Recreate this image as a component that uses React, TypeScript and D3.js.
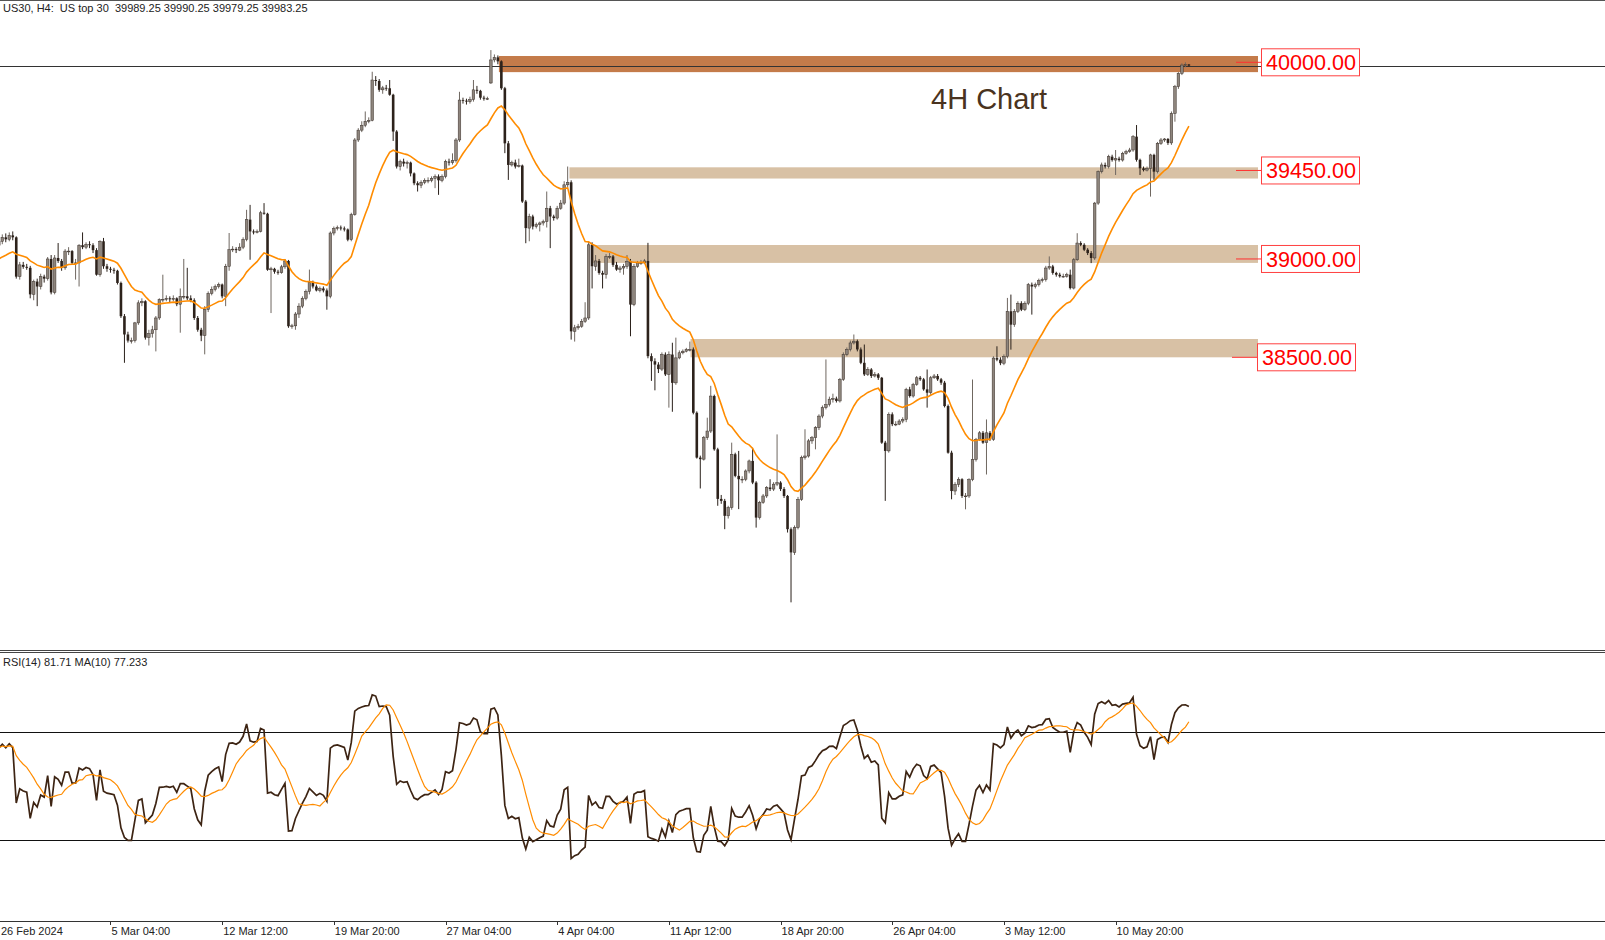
import React, { useEffect } from "react";
import * as d3 from "d3";

// ---- OHLC data, 4H bars, grouped by blocks of 32 bars ----
const wk0 = [[39070,39130,39050,39090],[39090,39125,39075,39110],[39110,39130,39085,39100],[39100,39135,39090,39120],[39120,39140,39095,39110],[39110,39115,38900,38910],[38910,38985,38895,38970],[38970,38985,38950,38960],[38960,38975,38945,38955],[38955,38965,38800,38820],[38820,38895,38790,38885],[38885,38900,38760,38860],[38860,38925,38845,38910],[38910,38920,38880,38900],[38900,39010,38890,39000],[39000,39020,38820,38830],[38830,39020,38820,39005],[39005,39081,38980,38990],[38990,39000,38940,38955],[38955,39050,38945,39040],[39040,39060,39020,39040],[39040,39045,38970,38980],[38980,39000,38895,38980],[38980,39075,38860,39070],[39070,39135,39050,39060],[39060,39085,39050,39075],[39075,39090,39055,39070],[39070,39080,39030,39045],[39045,39055,38915,38920],[38920,39095,38910,39090],[39090,39107,38950,38963],[38963,38975,38935,38950]];
const wk1 = [[38950,38960,38930,38945],[38945,38955,38925,38940],[38940,38945,38870,38878],[38878,38885,38700,38709],[38709,38720,38472,38616],[38616,38630,38575,38585],[38585,38600,38570,38585],[38585,38680,38575,38675],[38675,38790,38665,38777],[38777,38800,38760,38785],[38785,38790,38590,38600],[38600,38640,38560,38620],[38620,38660,38600,38640],[38640,38710,38530,38700],[38700,38800,38690,38794],[38794,38920,38780,38795],[38795,38815,38785,38800],[38800,38810,38780,38795],[38795,38815,38785,38800],[38800,38805,38760,38770],[38770,38850,38625,38810],[38810,39000,38795,38810],[38810,38955,38790,38800],[38800,38815,38780,38790],[38790,38800,38690,38700],[38700,38710,38630,38640],[38640,38650,38582,38610],[38610,38760,38515,38743],[38743,38835,38730,38825],[38825,38860,38815,38845],[38845,38870,38835,38860],[38860,38880,38850,38870]];
const wk2 = [[38870,38875,38800,38810],[38810,38975,38760,38963],[38963,39132,38940,39047],[39047,39065,39035,39050],[39050,39060,39030,39045],[39045,39080,39040,39060],[39060,39110,39050,39100],[39100,39250,39090,39200],[39200,39275,38996,39140],[39140,39150,39125,39135],[39135,39150,39130,39140],[39140,39245,39135,39235],[39235,39284,39225,39230],[39230,39235,38940,38945],[38945,38960,38725,38950],[38950,38955,38925,38935],[38935,38945,38920,38930],[38930,38970,38925,38960],[38960,39000,38950,38990],[38990,38995,38650,38658],[38658,38670,38645,38660],[38660,38730,38640,38720],[38720,38775,38700,38760],[38760,38810,38750,38800],[38800,38845,38790,38835],[38835,38946,38820,38880],[38880,38890,38850,38860],[38860,38870,38835,38840],[38840,38860,38830,38850],[38850,38860,38830,38840],[38840,38850,38742,38810],[38810,39140,38800,39132]];
const wk3 = [[39132,39165,39120,39155],[39155,39170,39145,39160],[39160,39170,39145,39155],[39155,39165,39140,39150],[39150,39155,39090,39098],[39098,39235,39090,39225],[39225,39615,39220,39605],[39605,39665,39595,39655],[39655,39700,39645,39680],[39680,39750,39670,39700],[39700,39720,39690,39705],[39705,39952,39700,39910],[39910,39930,39880,39905],[39905,39915,39850,39860],[39860,39880,39840,39870],[39870,39885,39855,39868],[39868,39910,39830,39835],[39835,39840,39600,39648],[39648,39655,39460,39470],[39470,39505,39450,39495],[39495,39510,39470,39485],[39485,39500,39460,39490],[39490,39495,39420,39435],[39435,39440,39375,39385],[39385,39395,39343,39375],[39375,39400,39360,39390],[39390,39410,39380,39400],[39400,39415,39385,39400],[39400,39420,39390,39410],[39410,39430,39360,39420],[39420,39430,39326,39400],[39400,39430,39390,39420]];
const wk4 = [[39420,39505,39410,39495],[39495,39510,39475,39490],[39490,39537,39480,39500],[39500,39615,39490,39605],[39605,39850,39595,39808],[39808,39820,39790,39805],[39805,39815,39785,39800],[39800,39825,39790,39810],[39810,39910,39800,39860],[39860,39880,39840,39855],[39855,39860,39810,39820],[39820,39830,39805,39815],[39815,39825,39808,39815],[39895,40062,39890,40012],[40012,40040,40000,40025],[40025,40035,39990,40005],[40005,40010,39860,39868],[39868,39875,39538,39588],[39588,39600,39402,39478],[39478,39500,39470,39490],[39490,39505,39460,39470],[39470,39510,39465,39475],[39475,39480,39285,39292],[39292,39300,39080,39157],[39157,39230,39090,39216],[39216,39225,39150,39165],[39165,39185,39155,39174],[39174,39190,39140,39183],[39183,39200,39170,39190],[39190,39343,39160,39258],[39258,39270,39055,39216],[39216,39225,39195,39208]];
const wk5 = [[39208,39270,39200,39258],[39258,39300,39250,39284],[39284,39395,39275,39377],[39377,39470,39365,39390],[39390,39400,38590,38632],[38632,38665,38580,38650],[38650,38670,38640,38658],[38658,38695,38650,38683],[38683,38780,38675,38700],[38700,39088,38690,39072],[39072,39085,38850,38963],[38963,39020,38940,38990],[38990,39000,38920,38929],[38929,38940,38850,38920],[38920,39025,38900,39013],[39013,39030,39000,39013],[39013,39020,38960,38970],[38970,38985,38940,38946],[38946,38965,38930,38954],[38954,38975,38920,38963],[38963,39020,38950,38988],[38988,39000,38607,38768],[38768,38975,38760,38963],[38963,38990,38955,38980],[38980,38995,38970,38980],[38980,39000,38975,38990],[38990,39082,38495,38506],[38506,38520,38380,38480],[38480,38495,38332,38463],[38463,38475,38420,38440],[38440,38525,38430,38514],[38514,38525,38405,38413]];
const wk6 = [[38413,38530,38244,38514],[38514,38574,38223,38370],[38370,38600,38360,38497],[38497,38535,38490,38523],[38523,38540,38515,38531],[38531,38548,38525,38540],[38540,38580,38530,38540],[38540,38550,38210,38218],[38218,38225,37985,37990],[37990,38000,37833,37982],[37982,38100,37975,38091],[38091,38193,38080,38125],[38125,38355,38115,38303],[38303,38310,38025,38032],[38032,38040,37745,37780],[37780,37800,37755,37770],[37770,37780,37626,37694],[37694,37745,37680,37736],[37736,38066,37725,38007],[38007,38015,37890,37897],[37897,38024,37728,37880],[37880,37895,37860,37880],[37880,37930,37870,37922],[37922,37980,37910,37973],[37973,38040,37855,37863],[37863,37870,37634,37685],[37685,37770,37675,37762],[37762,37805,37755,37795],[37795,37845,37785,37838],[37838,37880,37820,37830],[37830,37865,37820,37855],[37855,38108,37845,37863]];
const wk7 = [[37863,37870,37820,37830],[37830,37840,37785,37795],[37795,37800,37609,37626],[37626,37635,37254,37508],[37508,37645,37495,37634],[37634,37790,37625,37778],[37778,38000,37770,37990],[37990,38134,37980,37998],[37998,38085,37990,38075],[38075,38100,38060,38091],[38091,38150,38032,38142],[38142,38210,38130,38201],[38201,38255,38190,38244],[38244,38489,38235,38260],[38260,38300,38250,38287],[38287,38315,38270,38290],[38290,38300,38270,38278],[38278,38395,38270,38387],[38387,38525,38380,38514],[38514,38550,38505,38540],[38540,38585,38530,38573],[38573,38616,38565,38582],[38582,38590,38530,38540],[38540,38550,38465,38472],[38472,38565,38405,38413],[38413,38450,38405,38438],[38438,38445,38395,38405],[38405,38425,38398,38413],[38413,38420,38385,38396],[38396,38400,38060,38066],[38066,38075,37770,38024],[38024,38220,38015,38210]];
const wk8 = [[38210,38220,38150,38160],[38160,38175,38150,38160],[38160,38185,38155,38176],[38176,38195,38165,38184],[38184,38345,38170,38337],[38337,38350,38295,38303],[38303,38370,38295,38362],[38362,38405,38355,38396],[38396,38405,38380,38388],[38388,38395,38330,38337],[38337,38438,38244,38320],[38320,38405,38310,38396],[38396,38415,38390,38405],[38405,38415,38380,38388],[38388,38395,38360,38371],[38371,38380,38245,38252],[38252,38260,38010,38015],[38015,38025,37778,37820],[37820,37865,37800,37854],[37854,37890,37840,37880],[37880,37885,37785,37795],[37795,37810,37727,37795],[37795,37885,37785,37878],[37878,38387,37870,37980],[37980,38090,37970,38083],[38083,38125,38075,38116],[38116,38125,38060,38066],[38066,38184,37904,38116],[38116,38125,38075,38083],[38083,38505,38075,38496],[38496,38556,38480,38488],[38488,38500,38460,38470]];
const wk9 = [[38470,38515,38460,38505],[38505,38802,38495,38734],[38734,38819,38539,38666],[38666,38745,38655,38734],[38734,38785,38725,38775],[38775,38785,38735,38742],[38742,38785,38735,38775],[38775,38878,38765,38869],[38869,38880,38717,38860],[38860,38880,38850,38869],[38869,38900,38860,38890],[38890,38905,38880,38895],[38895,38965,38885,38954],[38954,39013,38945,38962],[38962,38970,38920,38929],[38929,38935,38910,38920],[38920,38930,38905,38912],[38912,38925,38905,38912],[38912,38930,38905,38920],[38920,38946,38845,38852],[38852,39005,38845,38996],[38996,39131,38990,39081],[39081,39090,39065,39072],[39072,39080,39040,39047],[39047,39055,39020,39030],[39030,39040,38979,39005],[39005,39290,38995,39284],[39284,39450,39275,39444],[39444,39490,39435,39478],[39478,39490,39460,39470],[39470,39530,39460,39520],[39520,39530,39495,39503]];
const wk10 = [[39503,39554,39427,39510],[39510,39520,39495,39503],[39503,39545,39495,39537],[39537,39555,39530,39546],[39546,39565,39540,39554],[39554,39630,39545,39622],[39622,39681,39495,39504],[39504,39510,39427,39461],[39461,39470,39445,39452],[39452,39470,39445,39461],[39461,39535,39317,39529],[39529,39535,39402,39444],[39444,39595,39435,39588],[39588,39615,39580,39605],[39605,39615,39595,39610],[39610,39615,39580,39590],[39590,39750,39580,39740],[39740,39885,39698,39876],[39876,39950,39865,39944],[39944,39995,39935,39986],[39986,40000,39975,39989.25],[39989.25,39990.25,39979.25,39983.25]];

const timeLabels = ["26 Feb 2024", "5 Mar 04:00", "12 Mar 12:00", "19 Mar 20:00", "27 Mar 04:00", "4 Apr 04:00", "11 Apr 12:00", "18 Apr 20:00", "26 Apr 04:00", "3 May 12:00", "10 May 20:00"];
const timeLabelBars = [0, 32, 64, 96, 128, 160, 192, 224, 256, 288, 320];

const levelLabels = ["40000.00", "39450.00", "39000.00", "38500.00"];
const levelPrices = [40000, 39450, 39000, 38500];
const zoneTops = [40032, 39466, 39071, 38593];
const zoneBottoms = [39950, 39409, 38980, 38500];
const zoneStartBars = [143.3, 163.5, 170.3, 198.2];
const rsiLevels = [70, 30];

const headerText = "US30, H4:  US top 30  39989.25 39990.25 39979.25 39983.25";
const rsiText = "RSI(14) 81.71 MA(10) 77.233";
const bidPrice = 39983.25;

const W = 1605, H = 940;
const FONT = "'Liberation Sans', Arial, sans-serif";

function ema(values: number[], period: number, seed: number) {
  const k = 2 / (period + 1);
  const out: number[] = [];
  let e = seed;
  values.forEach((v, i) => { e = i === 0 ? seed : e + k * (v - e); out.push(e); });
  return out;
}
function rsiCalc(closes: number[], period: number, g0: number, l0: number) {
  let ag = g0, al = l0;
  return closes.map((c, i) => {
    if (i > 0) {
      const ch = c - closes[i - 1];
      ag = (ag * (period - 1) + Math.max(ch, 0)) / period;
      al = (al * (period - 1) + Math.max(-ch, 0)) / period;
    }
    return al === 0 ? 100 : 100 - 100 / (1 + ag / al);
  });
}
function sma(values: number[], period: number) {
  return values.map((_, i) => {
    const s = values.slice(Math.max(0, i - period + 1), i + 1);
    return d3.mean(s) as number;
  });
}

export default function App() {
  useEffect(() => { document.body.style.margin = "0"; }, []);
  const bars = [...wk0, ...wk1, ...wk2, ...wk3, ...wk4, ...wk5, ...wk6, ...wk7, ...wk8, ...wk9, ...wk10];
  const n = bars.length;
  const step = 3.49;
  const x = d3.scaleLinear().domain([0, n - 1]).range([-1.2, -1.2 + (n - 1) * step]);
  const y = d3.scaleLinear().domain([38500, 40000]).range([357.3, 62.3]);
  const yr = d3.scaleLinear().domain([0, 100]).range([921, 651]);
  const closes = bars.map(b => b[3]);
  const ma = ema(closes, 20, 39000);
  const rsi = rsiCalc(closes, 14, 25, 14);
  const rsiMa = sma(rsi, 10);
  const maLine = d3.line<number>().x((_, i) => x(i)).y(v => y(v)).curve(d3.curveLinear);
  const rLine = d3.line<number>().x((_, i) => x(i)).y(v => yr(v));
  const zoneEndX = 1258;
  const bodyW = 2.6;

  return (
    <svg width={W} height={H} style={{ display: "block", background: "#fff" }} fontFamily={FONT}>
      <defs>
        <clipPath id="mainClip"><rect x={0} y={1} width={W} height={648} /></clipPath>
        <clipPath id="rsiClip"><rect x={0} y={653} width={W} height={267} /></clipPath>
      </defs>
      <rect x={0} y={0} width={W} height={H} fill="#fff" />
      <line x1={0} x2={W} y1={0.5} y2={0.5} stroke="#555" />
      <g clipPath="url(#mainClip)">
        {levelPrices.map((p, i) => (
          <rect key={"z" + i} x={x(zoneStartBars[i])} y={y(zoneTops[i])} width={zoneEndX - x(zoneStartBars[i])}
            height={y(zoneBottoms[i]) - y(zoneTops[i])} fill={i === 0 ? "#c47b4a" : "#d8c1a5"} />
        ))}
        <line x1={0} x2={W} y1={Math.round(y(bidPrice)) + 0.5} y2={Math.round(y(bidPrice)) + 0.5} stroke="#333" strokeWidth={1} />
        {bars.map((b, i) => {
          const [o, h, l, c] = b;
          const bull = c >= o;
          const cx = x(i);
          const top = y(Math.max(o, c)), bot = y(Math.min(o, c));
          return (
            <g key={"c" + i}>
              <line x1={cx} x2={cx} y1={y(h)} y2={y(l)} stroke={bull ? "#6f6760" : "#2a201a"} strokeWidth={1} />
              <rect x={cx - bodyW / 2} y={top} width={bodyW} height={Math.max(bot - top, 0.8)}
                fill={bull ? "#8e857d" : "#2d221b"} stroke={bull ? "#3a302a" : "none"} strokeWidth={0.5} />
            </g>
          );
        })}
        <path d={maLine(ma) || ""} fill="none" stroke="#ff8c00" strokeWidth={1.6} />
        {levelPrices.map((p, i) => {
          const bx = i === 3 ? 1257 : 1261;
          const cy = y(p);
          return (
            <g key={"l" + i}>
              <line x1={bx - 25} x2={bx} y1={cy} y2={cy} stroke="#ff3030" strokeWidth={1} />
              <rect x={bx + 0.5} y={cy - 13.5} width={98} height={27} fill="#fff" stroke="#ff4040" strokeWidth={1} />
              <text x={bx + 5} y={cy + 8} fontSize={22.5} fill="#ff0000" textLength={90} lengthAdjust="spacingAndGlyphs">{levelLabels[i]}</text>
            </g>
          );
        })}
        <text x={931} y={109} fontSize={29} fill="#4a3320">4H Chart</text>
      </g>
      <text x={3} y={12} fontSize={11} fill="#222" xmlSpace="preserve" style={{ whiteSpace: "pre" }}>{headerText}</text>
      <line x1={0} x2={W} y1={650.5} y2={650.5} stroke="#444" />
      <line x1={0} x2={W} y1={652.5} y2={652.5} stroke="#444" />
      <g clipPath="url(#rsiClip)">
        {rsiLevels.map(v => (
          <line key={"rl" + v} x1={0} x2={W} y1={Math.round(yr(v)) + 0.5} y2={Math.round(yr(v)) + 0.5} stroke="#111" />
        ))}
        <path d={rLine(rsi) || ""} fill="none" stroke="#3d2413" strokeWidth={1.7} />
        <path d={rLine(rsiMa) || ""} fill="none" stroke="#ff8c00" strokeWidth={1.2} />
      </g>
      <text x={3} y={666} fontSize={11} fill="#222">{rsiText}</text>
      <line x1={0} x2={W} y1={921.5} y2={921.5} stroke="#333" />
      {timeLabelBars.map((bi, i) => (
        <g key={"t" + i}>
          {i > 0 && <line x1={Math.round(x(bi)) + 0.5} x2={Math.round(x(bi)) + 0.5} y1={921} y2={925} stroke="#333" />}
          <text x={i === 0 ? 1 : x(bi) + 1} y={935} fontSize={11} fill="#222">{timeLabels[i]}</text>
        </g>
      ))}
    </svg>
  );
}
